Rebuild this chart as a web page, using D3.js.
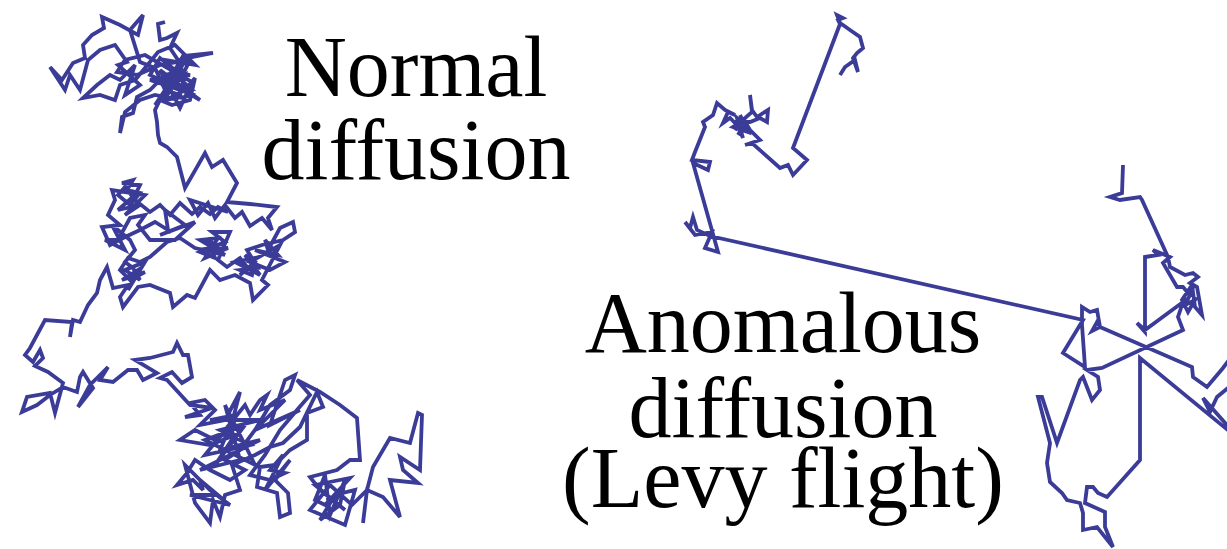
<!DOCTYPE html>
<html>
<head>
<meta charset="utf-8">
<script src="https://cdn.jsdelivr.net/npm/d3@7"></script>
<style>
  body { margin: 0; background: #fff; }
  svg { display: block; }
  .walk { fill: none; stroke: #3b3b98; stroke-width: 3.8; stroke-linejoin: miter; }
  .label { font-family: "Liberation Serif", "Times New Roman", serif; font-size: 86px; fill: #000; text-anchor: middle; }
</style>
</head>
<body>
<div id="chart"></div>
<script>
var width = 1227,
  height = 549;

// positions of the brownian walk, in walk units (x right, y down)
var normalWalk = [
  [145,12],[138,14],[140,30],[147,28],[157,23],[150,38],[158,50],[193,43],[163,46],[155,60],
  [140,48],[130,65],[150,75],[165,65],[160,85],[145,80],[135,58],[120,52],[110,20],[123,5],
  [118,25],[100,15],[82,7],[84,18],[72,25],[63,35],[65,48],[53,53],[42,70],[30,57],
  [45,80],[50,65],[60,80],[68,50],[80,40],[95,35],[107,52],[98,55],[120,75],[105,85],
  [115,55],[100,70],[90,65],[77,75],[63,88],
  [80,85],[95,90],[100,75],[115,70],[130,52],[138,42],[155,35],[175,55],[145,50],[160,70],
  [140,72],[170,78],[150,60],[170,65],[130,70],[175,85],[145,90],[165,50],[135,95],[155,75],
  [180,90],[140,60],[160,98],[172,72],[125,45],[105,50],[97,62],[117,65],[140,55],[152,53],[170,50],
  [165,60],[145,65],[130,80],[117,87],[113,103],[102,107],[100,123],[105,102],[120,90],[135,85],
  [150,88],[165,80],[175,68],[170,90],[152,95],[140,90],[135,100],[137,112],[138,125],[140,133],
  [147,137],[152,142],[157,147],[165,178],[185,143],[192,157],[203,150],[217,173],[207,192],
  [230,194],[257,197],[248,208],[252,220],[242,208],[230,216],[222,202],[215,208],[205,195],[195,208],
  [188,193],[178,205],[170,190],[208,202],[198,197],[190,204],
  [180,197],[172,204],[160,193],[150,205],[140,195],[130,202],[115,190],[105,177],[98,185],[110,195],
  [120,183],[107,180],[113,170],[102,173],[120,175],[115,185],[98,200],[120,195],[105,205],[125,185],
  [92,180],[95,190],[88,205],[100,215],[82,217],[90,235],
  [105,227],[120,220],[135,212],[148,220],[145,200],[165,215],[140,225],[175,212],[155,230],
  [130,230],[118,215],[125,205],[110,208],[98,230],[85,230],[105,240],[92,215],[110,230],[115,240],
  [105,252],[113,258],[120,270],[105,260],[125,252],[108,280],[118,260],[102,270],[125,262],[110,270],
  [100,260],[108,248],[120,252],[130,247],[147,232],[160,228],
  [175,238],[205,245],[180,230],[198,228],[185,248],[208,238],[178,240],[193,238],[185,232],[200,242],
  [188,228],[195,248],[180,242],[205,232],[192,222],[210,222],
  [198,250],[207,257],[220,248],[227,257],[220,265],[235,252],[225,245],[240,265],[215,252],[235,248],
  [232,265],[220,260],[238,258],[227,240],[242,235],
  [263,230],[275,222],[273,212],[260,218],[248,240],[245,230],[258,245],[235,240],[265,252],[250,260],
  [230,252],[260,235],[242,270],[248,275],[233,290],[230,273],[215,265],
  [200,270],[190,260],[175,288],[167,285],[153,297],[150,283],[130,275],[118,277],[103,297],[100,287],
  [108,275],[93,278],[87,257],[80,270],[77,283],[68,295],[60,312],
  [53,310],[50,327],[52,312],[25,310],[10,338],[5,345],[13,352],[20,340],[23,348],[15,356],
  [28,362],[43,373],[35,403],[30,383],[7,387],[2,402],[17,395],[30,385],[43,377],[57,382],
  [60,367],[63,362],[73,378],[58,397],[70,375],[77,368],[88,357],[80,370],[93,372],[108,360],
  [117,360],[123,370],[137,363],[115,350],[130,348],[153,342],[157,333],[163,345],[168,345],[172,367],
  [162,373],[152,362],[140,368],[147,370],[170,395],[192,398],[165,407],
  [180,405],[170,393],[185,390],[195,400],[180,415],[205,410],[220,382],[210,420],[195,430],[175,420],
  [160,430],[190,435],[215,425],[195,455],[225,415],[185,430],[235,455],[205,395],[220,450],[180,460],
  [240,430],[200,440],[215,405],[190,410],[240,410],[200,420],[230,435],[185,445],[225,395],[230,405],
  [240,390],[247,385],[240,400],[265,390],[235,420],[280,400],[250,415],
  [265,370],[275,365],[270,380],[250,395],[235,420],[220,440],[205,450],[225,460],
  [210,470],[190,460],[175,450],[167,463],[157,475],[173,470],[183,480],[180,470],[198,485],[170,485],
  [210,495],[190,480],[165,455],[175,493],[190,513],[193,490],
  [200,507],[205,485],[220,480],[212,455],[235,445],[250,437],[263,433],[280,417],[297,382],[303,397],
  [287,403],[287,430],[270,440],[255,455],[240,457],[237,477],[257,483],[260,507],[270,503],[268,483],
  [255,470],[270,450],[245,480],[263,445],[250,460],
  [265,463],[250,470],[230,465],[245,445],[260,420],[277,400],[290,385],[277,370],[300,382],[320,395],
  [337,408],[340,450],[330,450],[317,460],[290,467],[300,480],[325,500],[295,475],[330,468],[305,495],
  [295,490],[305,465],[310,505],[325,470],[320,495],
  [300,510],[315,485],[335,480],[325,515],[290,500],[310,475],[332,495],[347,480],[353,457],[370,428],
  [390,433],[398,403],[402,405],[400,460],[380,447],[383,460],[398,473],[370,470],[380,507],[363,487],
  [347,480],[343,513]
];

// positions of the levy flight, in walk units (x right, y down)
var levyWalk = [
  [160,65],[165,57],[175,50],[178,62],[173,48],[177,43],[183,38],[180,27],[170,20],[163,15],
  [160,13],[157,5],[163,8],[158,10],[160,14],[113,138],[127,150],[113,165],[108,155],[100,158],
  [72,133],[65,135],[80,130],[68,118],[60,110],[55,120],[65,108],[72,102],[70,85],[72,100],
  [77,107],[88,100],[87,112],[80,108],[70,112],[55,112],[62,118],[58,125],[65,115],[60,105],
  [68,122],[53,117],[64,110],[70,120],[57,108],[63,128],[57,115],[50,108],[43,113],[48,102],[55,105],
  [45,100],[37,93],[33,105],[23,112],[25,117],[15,142],[12,150],[30,152],[28,160],[13,153],
  [38,242],[25,238],[32,222],[15,225],[5,212],[10,218],[13,207],[17,220],[30,226],
  [403,310],[383,343],[405,357],[402,315],[402,297],[410,302],[417,300],[420,317],[412,321],[417,312],
  [420,317],[512,357],[513,367],[527,377],[543,358],[560,335],[560,368],[537,387],[530,402],[523,388],
  [560,430],[460,348],[460,450],[427,487],[418,483],[413,477],[407,477],[405,493],[425,502],[425,517],
  [433,537],[417,517],[403,520],[403,503],[400,493],[387,490],[382,483],[370,472],[367,453],[370,433],
  [358,387],[362,387],[377,433],[400,370],[403,367],[412,390],[420,380],[418,367],[407,360],[422,358],
  [503,320],[498,307],[503,292],[465,320],[457,313],[465,322],[465,247],[478,245],[473,240],[490,247],
  [483,253],[497,277],[503,277],[508,283],[512,280],[510,285],[505,295],[515,290],[508,302],[502,290],
  [512,275],[515,297],[522,305],[517,277],[510,273],[518,267],
  [513,263],[505,265],[490,257],[488,247],[462,190],[460,187],[440,190],[430,187],[442,183],[443,155]
];

var normalLabel = ["Normal", "diffusion"];
var levyLabel = ["Anomalous", "diffusion", "(Levy flight)"];
var normalBaselines = [96, 179];
var levyBaselines = [352, 437, 507];

function init() {
  var svg = d3.select("#chart").append("svg")
    .attr("width", width)
    .attr("height", height);

  var xNormal = d3.scaleLinear().domain([0, 410]).range([20, 430]),
    yNormal = d3.scaleLinear().domain([0, 520]).range([10, 530]);
  var xLevy = d3.scaleLinear().domain([0, 560]).range([680, 1240]),
    yLevy = d3.scaleLinear().domain([0, 540]).range([10, 550]);

  var lineNormal = d3.line().x(d => xNormal(d[0])).y(d => yNormal(d[1]));
  var lineLevy = d3.line().x(d => xLevy(d[0])).y(d => yLevy(d[1]));

  svg.append("path")
    .attr("class", "walk")
    .attr("d", lineNormal(normalWalk));

  svg.append("path")
    .attr("class", "walk")
    .attr("d", lineLevy(levyWalk));

  // one text block per label, a line per tspan
  var t1 = svg.append("text")
    .attr("class", "label");
  t1.selectAll("tspan")
    .data(normalLabel)
    .enter().append("tspan")
    .attr("x", 416)
    .attr("y", (d, i) => normalBaselines[i])
    .text(d => d);

  var t2 = svg.append("text")
    .attr("class", "label");
  t2.selectAll("tspan")
    .data(levyLabel)
    .enter().append("tspan")
    .attr("x", 783)
    .attr("y", (d, i) => levyBaselines[i])
    .text(d => d);
}

init();
</script>
</body>
</html>
